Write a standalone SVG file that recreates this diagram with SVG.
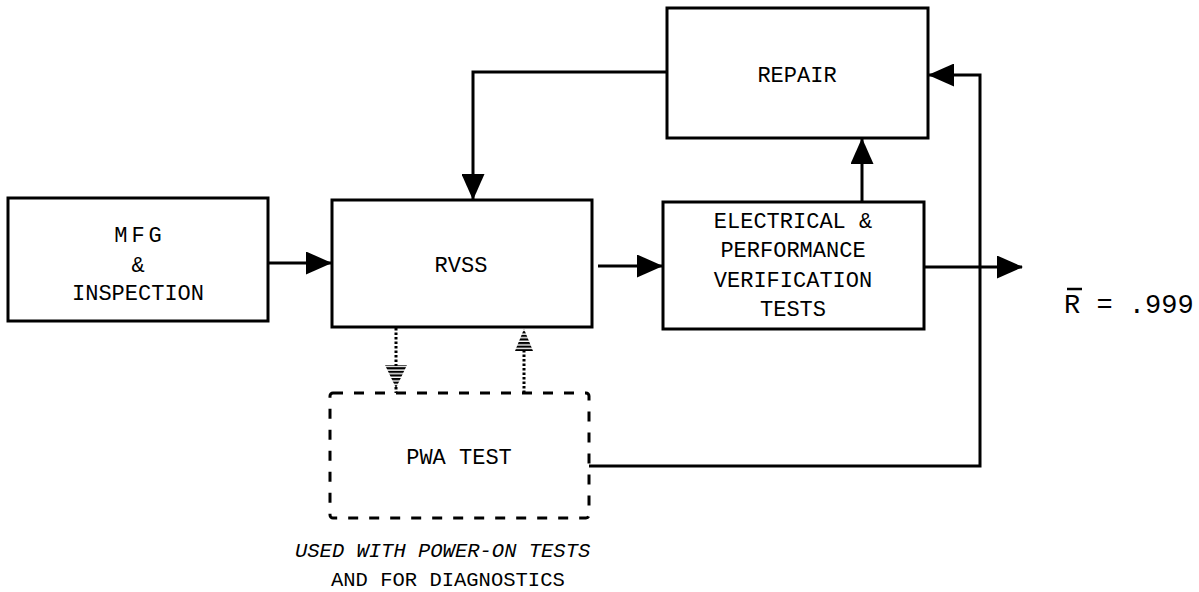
<svg xmlns="http://www.w3.org/2000/svg" width="1199" height="592" viewBox="0 0 1199 592">
  <style>
    .box { fill: #fff; stroke: #000; stroke-width: 3; }
    .dash { fill: none; stroke: #000; stroke-width: 3; stroke-dasharray: 10 11; }
    .wire { fill: none; stroke: #000; stroke-width: 3; }
    .dots { fill: none; stroke: #000; stroke-width: 3; stroke-dasharray: 2.5 2; }
    .lbl { font-family: "Liberation Mono", "Courier New", monospace; font-size: 22px; fill: #000; text-anchor: middle; }
    .note { font-family: "Liberation Mono", "Courier New", monospace; font-size: 20.5px; fill: #000; }
  </style>
  <defs>
    <marker id="head" markerUnits="userSpaceOnUse" markerWidth="26" markerHeight="23" refX="25" refY="11.5" orient="auto">
      <path d="M0,0 L26,11.5 L0,23 z" fill="#000"/>
    </marker>
    <pattern id="stripes" patternUnits="userSpaceOnUse" width="4" height="3.6">
      <rect x="0" y="0" width="4" height="2.2" fill="#000"/>
    </pattern>
  </defs>

  <!-- connectors -->
  <g id="connectors">
    <path class="wire" d="M268,263 H331" marker-end="url(#head)"/>
    <path class="wire" d="M598,266 H662" marker-end="url(#head)"/>
    <path class="wire" d="M667,72 H473 V199" marker-end="url(#head)"/>
    <path class="wire" d="M862,202 V139" marker-end="url(#head)"/>
    <path class="wire" d="M589,466 H980 V75 H929" marker-end="url(#head)"/>
    <path class="wire" d="M924,267 H1022" marker-end="url(#head)"/>
    <!-- dotted links between RVSS and PWA TEST -->
    <path class="dots" d="M396,328 V366"/>
    <polygon points="385,365 407,365 396,388" fill="url(#stripes)"/>
    <path class="dots" d="M396,387 V393"/>
    <path class="dots" d="M524,393 V350"/>
    <polygon points="524,329 533,351 515,351" fill="url(#stripes)"/>
  </g>

  <g id="mfg">
    <rect class="box" x="8" y="198" width="260" height="123"/>
    <text class="lbl" x="140" y="242" letter-spacing="4">MFG</text>
    <text class="lbl" x="138" y="272" font-size="17">&amp;</text>
    <text class="lbl" x="138" y="300">INSPECTION</text>
  </g>

  <g id="rvss">
    <rect class="box" x="332" y="200" width="260" height="127"/>
    <text class="lbl" x="461" y="272">RVSS</text>
  </g>

  <g id="repair">
    <rect class="box" x="667" y="8" width="261" height="130"/>
    <text class="lbl" x="797" y="82">REPAIR</text>
  </g>

  <g id="tests">
    <rect class="box" x="663" y="202" width="261" height="127"/>
    <text class="lbl" x="793" y="228">ELECTRICAL &amp;</text>
    <text class="lbl" x="793" y="257">PERFORMANCE</text>
    <text class="lbl" x="793" y="287">VERIFICATION</text>
    <text class="lbl" x="793" y="316">TESTS</text>
  </g>

  <g id="pwa">
    <rect class="dash" x="330" y="393" width="259" height="125" rx="3"/>
    <text class="lbl" x="459" y="464">PWA TEST</text>
  </g>

  <g id="reliability">
    <line x1="1067" y1="289" x2="1082" y2="289" stroke="#000" stroke-width="2.5"/>
    <text x="1064" y="313" font-family="Liberation Mono, Courier New, monospace" font-size="27" fill="#000">R = .999</text>
  </g>

  <g id="caption">
    <text class="note" x="295" y="557" font-style="italic">USED WITH POWER-ON TESTS</text>
    <text class="note" x="331" y="586">AND FOR DIAGNOSTICS</text>
  </g>
</svg>
